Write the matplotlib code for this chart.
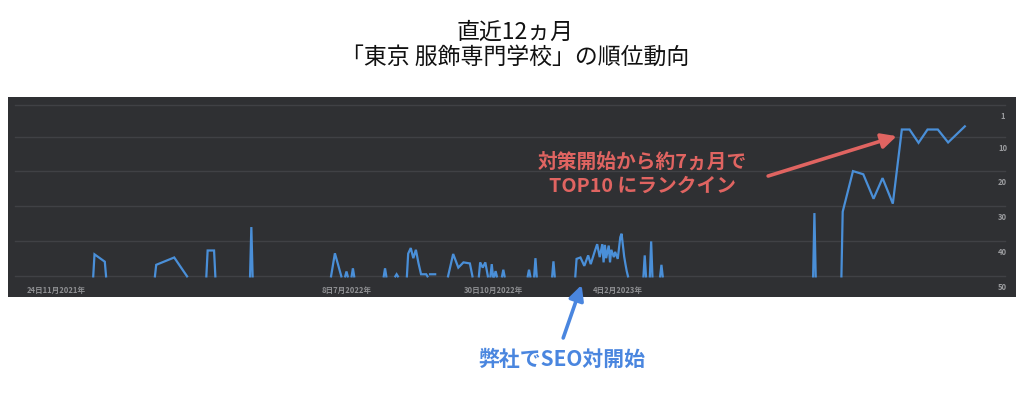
import numpy as np
import matplotlib
matplotlib.use("Agg")
import matplotlib.pyplot as plt
import matplotlib.transforms as mtransforms

plt.rcParams['font.family'] = ['Noto Sans CJK JP', 'DejaVu Sans']

# days counted from START, rank (50 = out of ranking), nan = gap
START = np.datetime64('2021-11-24')
nan = np.nan
days = [29, 30, 38, 39, nan,
        77, 78, 92, 102, nan,
        117, 118, 123, 124, nan,
        151, 152, 153, nan,
        214, 217, 222, nan,
        225, 226, 227, nan,
        230, 231, 232, nan,
        255, 256, 257, nan,
        264, 265, 266, nan,
        273, 274, 276, 278, 280, 282, 284, 288, 289, nan,
        291, 295, nan,
        305, 309, 313, 317, 322, 324, nan,
        329, 330, 332, 334, 336, nan,
        338, 339, 340, nan,
        341, 342, 343, nan,
        347, 348, 349, nan,
        367, 368, 369, nan,
        372, 373, 374, nan,
        386, 387, 388, nan,
        404, 405, 408, 411, 414, 416, 419, 421, 423, 425, 426, 427, 428,
        430, 431, 432, 434, 435, 437, 439, 440, 442, 443, 444, 445, nan,
        457, 458, 459, nan,
        462, 463, 464, nan,
        470, 471, 472, nan,
        589, 590, 591, nan,
        611, 612, 620, 628, 636, 643, 651, 658, 664, 671, 678, 686, 694, 707]
ranks = [50, 43.7, 45.8, 50, nan,
         50, 46.7, 44.6, 50, nan,
         50, 42.6, 42.6, 50, nan,
         50, 35.9, 50, nan,
         50, 43.4, 50, nan,
         50, 48.6, 50, nan,
         50, 47.7, 50, nan,
         50, 47.7, 50, nan,
         50, 49.4, 50, nan,
         50, 43.5, 41.9, 44.8, 42.4, 46.2, 49.4, 49.4, 50, nan,
         49.4, 49.4, nan,
         50, 43.6, 47.5, 46.0, 46.3, 50, nan,
         50, 46.0, 47.5, 46.0, 50, nan,
         50, 46.5, 50, nan,
         50, 48.5, 50, nan,
         50, 48.1, 50, nan,
         50, 48.1, 50, nan,
         50, 44.8, 50, nan,
         50, 45.7, 50, nan,
         50, 45.0, 44.6, 47.0, 44.0, 46.5, 43.0, 40.8, 44.5, 40.8, 46.0, 41.0, 44.8,
         41.2, 46.0, 42.4, 44.5, 43.0, 45.0, 38.8, 37.8, 44.3, 46.5, 48.5, 50, nan,
         50, 44.0, 50, nan,
         50, 40.0, 50, nan,
         50, 46.7, 50, nan,
         50, 31.9, 50, nan,
         50, 31.5, 19.9, 20.8, 27.8, 21.9, 29.2, 8.0, 8.0, 11.8, 8.0, 8.0, 11.7, 7.1]

rank_ticks = [1, 10, 20, 30, 40, 50]
date_ticks = ['2021-11-24', '2022-07-08', '2022-10-30', '2023-02-04']
date_labels = ['24日11月2021年', '8日7月2022年', '30日10月2022年', '4日2月2023年']

title = '直近12ヵ月\n「東京 服飾専門学校」の順位動向'
note_red = '対策開始から約7ヵ月で\nTOP10 にランクイン'
note_blue = '弊社でSEO対開始'

fig = plt.figure(figsize=(10.24, 3.93), dpi=100)
fig.patch.set_facecolor('white')
ax = fig.add_axes([0.0078, 0.2443, 0.984, 0.5089])
ax.set_facecolor('#2f3033')
for s in ax.spines.values():
    s.set_visible(False)
ax.set_xticks([])
ax.set_yticks([])

ax.set_xlim(-37.3, 746.5)
ax.set_ylim(55.9, -1.3)

for r in rank_ticks:
    ax.axhline(r, xmin=0.007, xmax=0.989, color='#404145', linewidth=1.0, zorder=1)

ax.plot(days, ranks, color='#4a8fd8', linewidth=1.6, zorder=3,
        solid_joinstyle='miter')

# rank labels, drawn just below each grid line
off = mtransforms.offset_copy(ax.get_yaxis_transform(), fig=fig, x=0, y=-11.5, units='dots')
for r in rank_ticks:
    ax.text(0.987, r, str(r), transform=off, ha='center', va='center',
            fontsize=5.5, color='#9a9b9e', fontweight='bold')

tick_days = [(np.datetime64(d) - START).astype(int) for d in date_ticks]
for d, lab in zip(tick_days, date_labels):
    ax.text(d, 53.9, lab, ha='center', va='center', fontsize=5.5,
            color='#8e8f92', fontweight='bold')

fig.text(0.503, 0.886, title, ha='center', va='center', fontsize=16.5,
         color='#111111', linespacing=1.12)

# red note and arrow
ax.text(456, 20.7, note_red, ha='center', va='center', fontsize=14.2,
        fontweight='bold', color='#e06461', linespacing=1.33)
ax.annotate('', xy=(654, 9.9), xytext=(554, 21.3),
            arrowprops=dict(arrowstyle='-|>,head_length=0.9,head_width=0.45',
                            color='#e06461', lw=2.6, shrinkA=0, shrinkB=0))

# blue note and arrow (below the panel)
fig.text(0.549, 0.085, note_blue, ha='center', va='center', fontsize=15,
         fontweight='bold', color='#4a86df')
ax.annotate('', xy=(0.568, 0.275), xytext=(0.550, 0.14),
            xycoords='figure fraction', textcoords='figure fraction',
            arrowprops=dict(arrowstyle='-|>,head_length=0.9,head_width=0.45',
                            color='#4a86df', lw=2.6, shrinkA=0, shrinkB=0),
            annotation_clip=False)

fig.savefig('out.png', dpi=100, facecolor='white')
